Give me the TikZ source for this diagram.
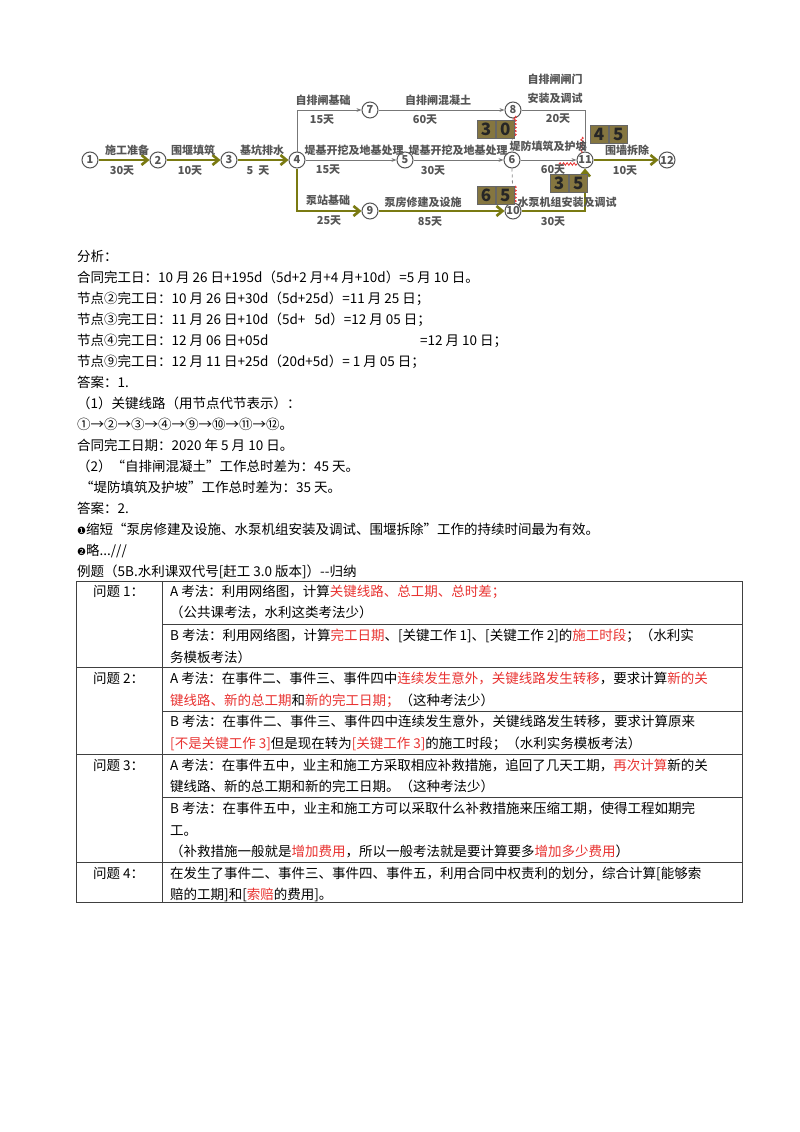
\documentclass[tikz,border=0pt]{standalone}
\usepackage{fontspec}
\setmainfont{Noto Sans CJK SC}
\newfontfamily\dejafont{DejaVu Sans}
\usetikzlibrary{arrows.meta,decorations.pathmorphing}
\definecolor{crit}{HTML}{7A7A12}
\definecolor{lbl}{HTML}{555555}
\definecolor{rd}{HTML}{E8312F}
\definecolor{boxc}{HTML}{857640}
\tikzset{
 ev/.style={circle,draw=lbl,line width=1pt,minimum size=16pt,inner sep=0pt,font=\fontsize{11}{11}\selectfont\bfseries,text=lbl,fill=white},
 gl/.style={draw=lbl!80,line width=1pt},
 cr/.style={draw=crit,line width=2.6pt,-{Straight Barb[length=6pt,width=10pt]}},
 dl/.style={font=\fontsize{11}{11}\selectfont\bfseries,text=lbl,inner sep=0pt},
 dmy/.style={draw=lbl!70,line width=0.8pt,dashed},
 wv/.style={draw=rd,line width=0.8pt,decorate,decoration={snake,amplitude=1.3pt,segment length=3.5pt}},
 dg/.style={draw=black!60,fill=boxc,minimum width=18pt,minimum height=18pt,inner sep=0pt,font=\fontsize{17}{17}\selectfont\bfseries,text=black!85},
 tl/.style={anchor=base west,inner sep=0pt,font=\fontsize{13.5}{16}\selectfont},
 tb/.style={draw=black!75,line width=0.8pt},
}
\begin{document}
\begin{tikzpicture}[x=1pt,y=-1pt]
\useasboundingbox (0,0) rectangle (800,1132);
% ---- network ----
\node[ev] (n1) at (90,160) {1};
\node[ev] (n2) at (158,160) {2};
\node[ev] (n3) at (229,160) {3};
\node[ev] (n4) at (297,160) {4};
\node[ev] (n5) at (405,160) {5};
\node[ev] (n6) at (512,160) {6};
\node[ev] (n7) at (370,110) {7};
\node[ev] (n8) at (513,110) {8};
\node[ev] (n9) at (370,211) {9};
\node[ev] (n10) at (513,211) {10};
\node[ev] (n11) at (585,160) {11};
\node[ev] (n12) at (667,160) {12};
\draw[cr] (n1) -- (n2);
\draw[cr] (n2) -- (n3);
\draw[cr] (n3) -- (n4);
\draw[cr] (n4.south) |- (n9.west);
\draw[cr] (n9) -- (n10);
\draw[cr] (n10.east) -| (n11.south);
\draw[cr] (n11) -- (n12);
\draw[gl,-{Stealth[length=5pt]}] (n4.north) |- (n7.west);
\draw[gl,-{Stealth[length=5pt]}] (n7) -- (n8);
\draw[gl,-{Stealth[length=5pt]}] (n8.east) -| (n11.north);
\draw[gl,-{Stealth[length=5pt]}] (n4) -- (n5);
\draw[gl,-{Stealth[length=5pt]}] (n5) -- (n6);
\draw[gl,-{Stealth[length=5pt]}] (n6) -- (n11);
\draw[dmy] (n8.south) -- (n6.north);
\draw[dmy] (n6.south) -- (n10.north);
\draw[wv] (515,116) -- (515,136);
\draw[wv] (515,186) -- (515,204);
\draw[wv] (559,164) -- (577,164);
\draw[wv] (582,137) -- (582,153);
\node[dl] at (127,150) {施工准备}; \node[dl] at (122,171) {30天};
\node[dl] at (193,150) {围堰填筑}; \node[dl] at (190,171) {10天};
\node[dl] at (262,150) {基坑排水}; \node[dl] at (258,171) {5\ \ 天};
\node[dl] at (323,100) {自排闸基础}; \node[dl] at (322,120) {15天};
\node[dl] at (438,100) {自排闸混凝土}; \node[dl] at (425,120) {60天};
\node[dl] at (555,79) {自排闸闸门}; \node[dl] at (555,98) {安装及调试};
\node[dl] at (558,119) {20天};
\node[dl] at (354,150) {堤基开挖及地基处理}; \node[dl] at (328,170) {15天};
\node[dl] at (458,150) {堤基开挖及地基处理}; \node[dl] at (433,171) {30天};
\node[dl] at (548,146) {堤防填筑及护坡}; \node[dl] at (553,170) {60天};
\node[dl] at (328,200) {泵站基础}; \node[dl] at (329,221) {25天};
\node[dl] at (423,202) {泵房修建及设施}; \node[dl] at (430,222) {85天};
\node[dl] at (567,202) {水泵机组安装及调试}; \node[dl] at (553,222) {30天};
\node[dl] at (627,150) {围墙拆除}; \node[dl] at (625,171) {10天};
\node[dg] (b30a) at (486,129) {3}; \node[dg,anchor=west] (b30b) at ([xshift=1pt]b30a.east) {0};
\node[dg] (b65a) at (486,195) {6}; \node[dg,anchor=west] (b65b) at ([xshift=1pt]b65a.east) {5};
\node[dg] (b45a) at (599,134) {4}; \node[dg,anchor=west] (b45b) at ([xshift=1pt]b45a.east) {5};
\node[dg] (b35a) at (559,183) {3}; \node[dg,anchor=west] (b35b) at ([xshift=1pt]b35a.east) {5};
% ---- text ----
\node[tl] (t1) at (77,261) {分析：};
\node[tl] (t2) at (77,282) {合同完工日：10 月 26 日+195d（5d+2 月+4 月+10d）=5 月 10 日。};
\node[tl] (t3) at (77,303) {节点②完工日：10 月 26 日+30d（5d+25d）=11 月 25 日；};
\node[tl] (t4) at (77,324) {节点③完工日：11 月 26 日+10d（5d+\ \ \ 5d）=12 月 05 日；};
\node[tl] (t5) at (77,345) {节点④完工日：12 月 06 日+05d};
\node[tl] (t5b) at (420,345) {=12 月 10 日；};
\node[tl] (t6) at (77,366) {节点⑨完工日：12 月 11 日+25d（20d+5d）= 1 月 05 日；};
\node[tl] (t7) at (77,387) {答案：1.};
\node[tl] (t8) at (77,408) {（1）关键线路（用节点代节表示）：};
\node[tl] (t9) at (77,429) {①→②→③→④→⑨→⑩→⑪→⑫。};
\node[tl] (t10) at (77,450) {合同完工日期：2020 年 5 月 10 日。};
\node[tl] (t11) at (77,471) {（2）“自排闸混凝土”工作总时差为：45 天。};
\node[tl] (t12) at (77,492) {\ “堤防填筑及护坡”工作总时差为：35 天。};
\node[tl] (t13) at (77,513) {答案：2.};
\node[tl] (t14) at (77,534) {{\dejafont\fontsize{10}{10}\selectfont ❶}缩短“泵房修建及设施、水泵机组安装及调试、围堰拆除”工作的持续时间最为有效。};
\node[tl] (t15) at (77,555) {{\dejafont\fontsize{10}{10}\selectfont ❷}略.../// };
\node[tl] (t16) at (77,576) {例题（5B.水利课双代号[赶工 3.0 版本]）-{}-归纳};
% ---- table ----
\draw[tb] (76,581) rectangle (742,902);
\draw[tb] (162,581) -- (162,902);
\draw[tb] (76,667) -- (742,667);
\draw[tb] (76,754) -- (742,754);
\draw[tb] (76,862) -- (742,862);
\draw[tb] (162,624) -- (742,624);
\draw[tb] (162,711) -- (742,711);
\draw[tb] (162,797) -- (742,797);
\node[tl] (q1) at (93,596) {问题 1：};
\node[tl] (q2) at (93,683) {问题 2：};
\node[tl] (q3) at (93,770) {问题 3：};
\node[tl] (q4) at (93,878) {问题 4：};
\node[tl] (a1) at (170,596) {A 考法：利用网络图，计算\textcolor{rd}{关键线路、总工期、总时差；}};
\node[tl] (a2) at (170,617) {（公共课考法，水利这类考法少）};
\node[tl] (a3) at (170,640) {B 考法：利用网络图，计算\textcolor{rd}{完工日期}、[关键工作 1]、[关键工作 2]的\textcolor{rd}{施工时段}；（水利实};
\node[tl] (a4) at (170,662) {务模板考法）};
\node[tl] (a5) at (170,683) {A 考法：在事件二、事件三、事件四中\textcolor{rd}{连续发生意外，关键线路发生转移}，要求计算\textcolor{rd}{新的关}};
\node[tl] (a6) at (170,705) {\textcolor{rd}{键线路、新的总工期}和\textcolor{rd}{新的完工日期；}（这种考法少）};
\node[tl] (a7) at (170,726) {B 考法：在事件二、事件三、事件四中连续发生意外，关键线路发生转移，要求计算原来};
\node[tl] (a8) at (170,748) {\textcolor{rd}{[不是关键工作 3]}但是现在转为\textcolor{rd}{[关键工作 3]}的施工时段；（水利实务模板考法）};
\node[tl] (a9) at (170,770) {A 考法：在事件五中，业主和施工方采取相应补救措施，追回了几天工期，\textcolor{rd}{再次计算}新的关};
\node[tl] (a10) at (170,791) {键线路、新的总工期和新的完工日期。（这种考法少）};
\node[tl] (a11) at (170,813) {B 考法：在事件五中，业主和施工方可以采取什么补救措施来压缩工期，使得工程如期完};
\node[tl] (a12) at (170,835) {工。};
\node[tl] (a13) at (170,856) {（补救措施一般就是\textcolor{rd}{增加费用}，所以一般考法就是要计算要多\textcolor{rd}{增加多少费用}）};
\node[tl] (a14) at (170,878) {在发生了事件二、事件三、事件四、事件五，利用合同中权责利的划分，综合计算[能够索};
\node[tl] (a15) at (170,899) {赔的工期]和[\textcolor{rd}{索赔}的费用]。};
\end{tikzpicture}
\end{document}
